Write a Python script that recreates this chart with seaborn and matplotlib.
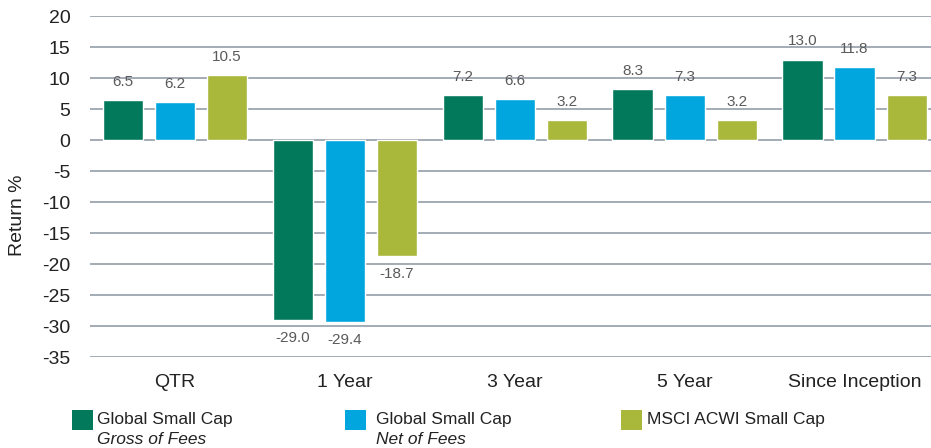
import pandas as pd
import numpy as np
import matplotlib.pyplot as plt
import seaborn as sns
from matplotlib.patches import Rectangle

periodlar = ['QTR', '1 Year', '3 Year', '5 Year', 'Since Inception']
gross     = [6.5, -29.0, 7.2, 8.3, 13.0]
net       = [6.2, -29.4, 6.6, 7.3, 11.8]
msci      = [10.5, -18.7, 3.2, 3.2, 7.3]
seriler   = ['Gross', 'Net', 'MSCI']
renkler   = ['#03795b', '#02a6de', '#a9b83a']
y_ticks   = [20, 15, 10, 5, 0, -5, -10, -15, -20, -25, -30, -35]

df = pd.DataFrame({
    'Period': periodlar * 3,
    'Seri': [s for s in seriler for _ in periodlar],
    'Return': gross + net + msci,
})

sns.set_theme(style="whitegrid")
plt.rcParams['font.family'] = ['Liberation Sans', 'DejaVu Sans']
plt.rcParams['axes.unicode_minus'] = False

fig = plt.figure(figsize=(9.31, 4.48), dpi=100)
ax = fig.add_axes([0.0967, 0.203, 0.9033, 0.761])

sns.barplot(data=df, x='Period', y='Return', hue='Seri', palette=renkler,
            order=periodlar, hue_order=seriler, width=0.92, gap=0.23,
            saturation=1, legend=False, ax=ax)

for c in ax.containers:
    ax.bar_label(c, fmt='%.1f', padding=8, fontsize=11, color='#5a5a5a')

ax.set_ylim(-35, 20)
ax.set_xlim(-0.5, 4.45)
ax.set_yticks(y_ticks)
ax.yaxis.grid(True, color='#8a96a1', linewidth=1.1)
ax.xaxis.grid(False)
ax.set_axisbelow(True)
for s in ax.spines.values():
    s.set_visible(False)
ax.tick_params(axis='y', length=0, pad=14, labelsize=14, labelcolor='#222222')
ax.tick_params(axis='x', length=0, pad=12, labelsize=14, labelcolor='#222222')
ax.set_xlabel('')
ax.set_ylabel('Return %', fontsize=14, color='#222222')
ax.yaxis.set_label_coords(-0.076, 0.416)

# legend drawn by hand
leg = [(72, 97, renkler[0], 'Global Small Cap', 'Gross of Fees'),
       (345, 376, renkler[1], 'Global Small Cap', 'Net of Fees'),
       (621, 647, renkler[2], 'MSCI ACWI Small Cap', None)]
W, H = 931, 448
for x0, xt, renk, l1, l2 in leg:
    fig.add_artist(Rectangle((x0 / W, 1 - 430 / H), 21 / W, 20 / H,
                             transform=fig.transFigure, color=renk, lw=0))
    fig.text(xt / W, 1 - 419 / H, l1, fontsize=12.5, color='#222222', va='center')
    if l2:
        fig.text(xt / W, 1 - 439 / H, l2, fontsize=12.5, color='#222222',
                 va='center', style='italic')

plt.savefig('out.png', dpi=100)
plt.close()
